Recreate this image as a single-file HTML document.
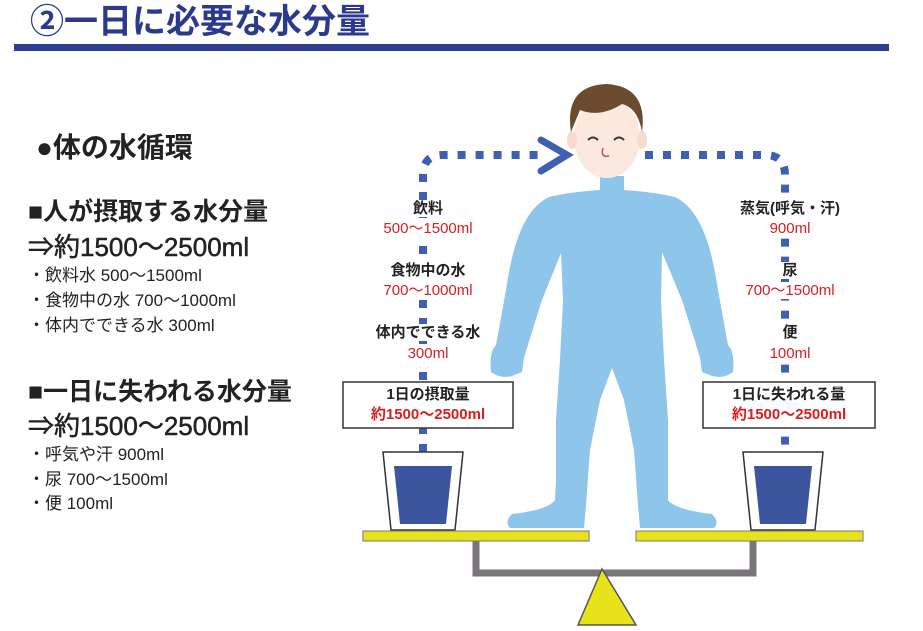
<!DOCTYPE html>
<html><head><meta charset="utf-8"><style>
body{margin:0;width:923px;height:631px;background:#fff;overflow:hidden;position:relative;font-family:"Liberation Sans","Noto Sans CJK JP",sans-serif;}
.t{position:absolute;white-space:nowrap;font-weight:bold;color:#222;line-height:1;}
.r{color:#d81e1e}
.c{text-align:center;transform:translateX(-50%);background:#fff;padding:1px 2px}
</style></head><body>
<div class="t" style="left:30px;top:5px;font-size:34px;color:#2b3a8c;">②一日に必要な水分量</div>
<div style="position:absolute;left:14px;top:44px;width:875px;height:7px;background:#2e3f93"></div>
<div class="t" style="left:36px;top:134px;font-size:28px;">●体の水循環</div>
<div class="t" style="left:28px;top:200px;font-size:25px;">■人が摂取する水分量</div>
<div class="t" style="left:28px;top:234px;font-size:26px;font-weight:normal;color:#222;-webkit-text-stroke:0.5px #222">⇒約1500～2500ml</div>
<div class="t" style="left:28px;top:267px;font-size:17px;font-weight:normal">・飲料水 500～1500ml</div>
<div class="t" style="left:28px;top:292px;font-size:17px;font-weight:normal">・食物中の水 700～1000ml</div>
<div class="t" style="left:28px;top:317px;font-size:17px;font-weight:normal">・体内でできる水 300ml</div>
<div class="t" style="left:28px;top:380px;font-size:25px;">■一日に失われる水分量</div>
<div class="t" style="left:28px;top:413px;font-size:26px;font-weight:normal;-webkit-text-stroke:0.5px #222">⇒約1500～2500ml</div>
<div class="t" style="left:28px;top:446px;font-size:17px;font-weight:normal">・呼気や汗 900ml</div>
<div class="t" style="left:28px;top:471px;font-size:17px;font-weight:normal">・尿 700～1500ml</div>
<div class="t" style="left:28px;top:495px;font-size:17px;font-weight:normal">・便 100ml</div>

<svg width="923" height="631" style="position:absolute;left:0;top:0">
<g stroke="#3f5fb0" stroke-width="8" fill="none" stroke-dasharray="8,10">
<path d="M423,452 V175 Q423,155 443,155 H545"/>
<path d="M645,155 H765 Q785,155 785,175 V452"/>
</g>
<path d="M541,140 L567,155 L541,171" stroke="#3f5fb0" stroke-width="7" fill="none" stroke-linecap="round"/>
<path fill="#8ec5ea" d="M600,176 L600,190 Q570,192 549,197 C522,210 512,250 506,290 L496,345 Q489,352 491,372 Q500,379 512,376 L522,372 L524,358 L530,338 L542,300 L561,253 L563,300 L560,360 L556,420 L556,480 L555,500 Q548,510 512,514 Q504,522 510,528 L584,528 L586,505 L590,450 L600,400 L612,368 L624,400 L634,450 L638,505 L640,528 L714,528 Q720,522 712,514 Q676,510 668,500 L668,480 L668,420 L664,360 L661,300 L662,252 L682,300 L694,338 L700,358 L702,372 L712,376 Q724,379 733,372 Q735,352 728,345 L718,290 C712,250 702,210 675,197 Q654,192 624,190 L624,176 Z"/>
<ellipse cx="607" cy="138" rx="33" ry="40" fill="#fbe9df"/>
<ellipse cx="572" cy="140" rx="5" ry="9" fill="#f5dccc"/>
<ellipse cx="642" cy="140" rx="5" ry="9" fill="#f5dccc"/>
<path d="M571,132 Q564,86 606,84 Q648,86 642,132 Q638,108 622,104 Q600,118 580,110 Z" fill="#6b4a2e"/>
<path d="M588,140 q5,-5 10,0 M614,140 q5,-5 10,0" stroke="#333" stroke-width="2" fill="none"/>
<path d="M603,148 q-3,10 6,8" stroke="#c85050" stroke-width="1.5" fill="none"/>
<path d="M383,452 h80 l-8,78 h-64 z" fill="#fff" stroke="#333" stroke-width="1.5"/>
<path d="M394,466 h58 l-6,58 h-46 z" fill="#3c559f"/>
<path d="M743,452 h80 l-8,78 h-64 z" fill="#fff" stroke="#333" stroke-width="1.5"/>
<path d="M754,466 h58 l-6,58 h-46 z" fill="#3c559f"/>
<rect x="363" y="531" width="226" height="10" fill="#e8e21a" stroke="#777" stroke-width="1"/>
<rect x="636" y="531" width="227" height="10" fill="#e8e21a" stroke="#777" stroke-width="1"/>
<path d="M476,541 V573 H753 V541" stroke="#7a757a" stroke-width="7" fill="none"/>
<polygon points="602,569 578,625 636,625" fill="#e8e21a" stroke="#555" stroke-width="1.5"/>
<rect x="343" y="382" width="170" height="46" fill="#fff" stroke="#333" stroke-width="1.5"/>
<rect x="703" y="382" width="172" height="46" fill="#fff" stroke="#333" stroke-width="1.5"/>
</svg>

<div class="t c" style="left:428px;top:200px;font-size:15px">飲料</div>
<div class="t c r" style="left:428px;top:220px;font-size:15px;font-weight:normal">500～1500ml</div>
<div class="t c" style="left:428px;top:262px;font-size:15px">食物中の水</div>
<div class="t c r" style="left:428px;top:282px;font-size:15px;font-weight:normal">700～1000ml</div>
<div class="t c" style="left:428px;top:324px;font-size:15px">体内でできる水</div>
<div class="t c r" style="left:428px;top:345px;font-size:15px;font-weight:normal">300ml</div>
<div class="t c" style="left:428px;top:386px;font-size:15px">1日の摂取量</div>
<div class="t c r" style="left:428px;top:406px;font-size:15px">約1500～2500ml</div>

<div class="t c" style="left:790px;top:200px;font-size:15px">蒸気(呼気・汗)</div>
<div class="t c r" style="left:790px;top:220px;font-size:15px;font-weight:normal">900ml</div>
<div class="t c" style="left:790px;top:262px;font-size:15px">尿</div>
<div class="t c r" style="left:790px;top:282px;font-size:15px;font-weight:normal">700～1500ml</div>
<div class="t c" style="left:790px;top:324px;font-size:15px">便</div>
<div class="t c r" style="left:790px;top:345px;font-size:15px;font-weight:normal">100ml</div>
<div class="t c" style="left:789px;top:386px;font-size:15px">1日に失われる量</div>
<div class="t c r" style="left:789px;top:406px;font-size:15px">約1500～2500ml</div>
</body></html>
